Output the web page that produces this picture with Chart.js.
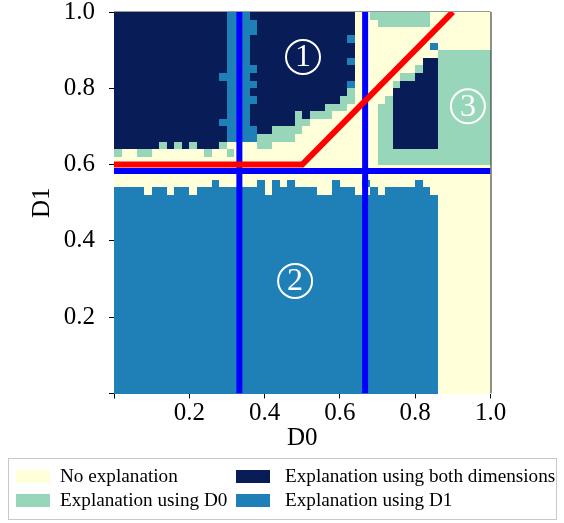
<!DOCTYPE html>
<html>
<head>
<meta charset="utf-8">
<script src="https://cdn.jsdelivr.net/npm/chart.js@4.4.1/dist/chart.umd.min.js"></script>
<style>
    body { margin: 0; background: #fff; }
    #wrap { position: relative; width: 564px; height: 523px; }
    #legend {
        position: absolute; left: 8px; top: 458px; width: 549px; height: 62px;
        border: 1px solid #c8c8c8; box-sizing: border-box;
        font-family: 'Liberation Serif', serif; font-size: 19.2px; color: #000;
    }
    .item { position: absolute; height: 22px; white-space: nowrap; }
    .sw { position: absolute; top: 5px; left: 0; width: 34px; height: 13px; }
    .txt { position: absolute; top: 0; line-height: 22px; }
</style>
</head>
<body>
<div id="wrap">
    <canvas id="chart" width="564" height="523"></canvas>
    <div id="legend"></div>
</div>
<script>
// classes of the explanation map
const classCodes = ['.', 'g', 'n', 'b'];
const classNames = ['No explanation', 'Explanation using D0', 'Explanation using both dimensions', 'Explanation using D1'];
const classColors = ['#ffffd9', '#97d6b9', '#081d58', '#1f80b8'];

// 50 x 50 cells, top row = D1 near 1.0, left column = D0 near 0.0
const gridRows = [
    'nnnnnnnnnnnnnnnbbbnnnnnnnnnnnnnn..gggggggg........',
    'nnnnnnnnnnnnnnnbbbbnnnnnnnnnnnnn...ggggggg........',
    'nnnnnnnnnnnnnnnbbbbnnnnnnnnnnnnn..................',
    'nnnnnnnnnnnnnnnbbbnnnnnnnnnnnnnb..................',
    'nnnnnnnnnnnnnnnbbbnnnnnnnnnnnnnn..........b.......',
    'nnnnnnnnnnnnnnnbbbnnnnnnnnnnnnnn...........ggggggg',
    'nnnnnnnnnnnnnnnbbbnnnnnnnnnnnnnb.........nnggggggg',
    'nnnnnnnnnnnnnnnbbbbnnnnnnnnnnnnn........gnnggggggg',
    'nnnnnnnnnnnnnnbbbbnnnnnnnnnnnnnn......ggnnnggggggg',
    'nnnnnnnnnnnnnnnbbbbnnnnnnnnnnnnb.....gnnnnnggggggg',
    'nnnnnnnnnnnnnnnbbbnnnnnnnnnnnnng.....nnnnnnggggggg',
    'nnnnnnnnnnnnnnnbbbbnnnnnnnnnnngg....gnnnnnnggggggg',
    'nnnnnnnnnnnnnnnbbbnnnnnnnnnnggg....ggnnnnnnggggggg',
    'nnnnnnnnnnnnnnnbbbnnnnnngnggg......ggnnnnnnggggggg',
    'nnnnnnnnnnnnnnbbbbnnnnnngg.........ggnnnnnnggggggg',
    'nnnnnnnnnnnnnnnbbbbnngggg..........ggnnnnnnggggggg',
    'nnnnnnnnnnnnnnnbbbbggggg...........ggnnnnnnggggggg',
    'nnnnnngngngnnng....gg..............ggnnnnnnggggggg',
    'g..gg.......g..g...................ggggggggggggggg',
    '...................................ggggggggggggggg',
    '..................................................',
    '..................................................',
    '.............b.....b.b.b.....b...b......b.........',
    'bbbb.bb.bb.bbbbbbbbb.bbbbbb..bbb..b.bbbbbb........',
    'bbbbbbbbbbbbbbbbbbbbbbbbbbbbbbbbbbbbbbbbbbb.......',
    'bbbbbbbbbbbbbbbbbbbbbbbbbbbbbbbbbbbbbbbbbbb.......',
    'bbbbbbbbbbbbbbbbbbbbbbbbbbbbbbbbbbbbbbbbbbb.......',
    'bbbbbbbbbbbbbbbbbbbbbbbbbbbbbbbbbbbbbbbbbbb.......',
    'bbbbbbbbbbbbbbbbbbbbbbbbbbbbbbbbbbbbbbbbbbb.......',
    'bbbbbbbbbbbbbbbbbbbbbbbbbbbbbbbbbbbbbbbbbbb.......',
    'bbbbbbbbbbbbbbbbbbbbbbbbbbbbbbbbbbbbbbbbbbb.......',
    'bbbbbbbbbbbbbbbbbbbbbbbbbbbbbbbbbbbbbbbbbbb.......',
    'bbbbbbbbbbbbbbbbbbbbbbbbbbbbbbbbbbbbbbbbbbb.......',
    'bbbbbbbbbbbbbbbbbbbbbbbbbbbbbbbbbbbbbbbbbbb.......',
    'bbbbbbbbbbbbbbbbbbbbbbbbbbbbbbbbbbbbbbbbbbb.......',
    'bbbbbbbbbbbbbbbbbbbbbbbbbbbbbbbbbbbbbbbbbbb.......',
    'bbbbbbbbbbbbbbbbbbbbbbbbbbbbbbbbbbbbbbbbbbb.......',
    'bbbbbbbbbbbbbbbbbbbbbbbbbbbbbbbbbbbbbbbbbbb.......',
    'bbbbbbbbbbbbbbbbbbbbbbbbbbbbbbbbbbbbbbbbbbb.......',
    'bbbbbbbbbbbbbbbbbbbbbbbbbbbbbbbbbbbbbbbbbbb.......',
    'bbbbbbbbbbbbbbbbbbbbbbbbbbbbbbbbbbbbbbbbbbb.......',
    'bbbbbbbbbbbbbbbbbbbbbbbbbbbbbbbbbbbbbbbbbbb.......',
    'bbbbbbbbbbbbbbbbbbbbbbbbbbbbbbbbbbbbbbbbbbb.......',
    'bbbbbbbbbbbbbbbbbbbbbbbbbbbbbbbbbbbbbbbbbbb.......',
    'bbbbbbbbbbbbbbbbbbbbbbbbbbbbbbbbbbbbbbbbbbb.......',
    'bbbbbbbbbbbbbbbbbbbbbbbbbbbbbbbbbbbbbbbbbbb.......',
    'bbbbbbbbbbbbbbbbbbbbbbbbbbbbbbbbbbbbbbbbbbb.......',
    'bbbbbbbbbbbbbbbbbbbbbbbbbbbbbbbbbbbbbbbbbbb.......',
    'bbbbbbbbbbbbbbbbbbbbbbbbbbbbbbbbbbbbbbbbbbb.......',
    'bbbbbbbbbbbbbbbbbbbbbbbbbbbbbbbbbbbbbbbbbbb.......'
];

// learned boundary (red) and the true splits (blue)
const redLineD0 = [0, 0.5, 0.9];
const redLineD1 = [0.6, 0.6, 1.0];
const splitsD0 = [0.333, 0.667];
const splitD1 = 0.583;

// circled region labels
const regionLabels = ['1', '2', '3'];
const regionD0 = [0.502, 0.481, 0.94];
const regionD1 = [0.882, 0.295, 0.753];

const tickValues = [0, 0.2, 0.4, 0.6, 0.8, 1.0];

const serif = "'Liberation Serif', 'Times New Roman', serif";

const cellsPlugin = {
    id: 'cells',
    beforeDatasetsDraw(chart) {
        const { ctx, scales: { x, y } } = chart;
        const nRows = gridRows.length;
        ctx.save();
        gridRows.forEach((row, j) => {
            const nCols = row.length;
            const yTop = Math.round(y.getPixelForValue(1 - j / nRows));
            const yBot = Math.round(y.getPixelForValue(1 - (j + 1) / nRows));
            for (let i = 0; i < nCols; i++) {
                const x0 = Math.round(x.getPixelForValue(i / nCols));
                const x1 = Math.round(x.getPixelForValue((i + 1) / nCols));
                ctx.fillStyle = classColors[classCodes.indexOf(row[i])];
                ctx.fillRect(x0, yTop, x1 - x0, yBot - yTop);
            }
        });
        ctx.restore();
    },
    afterDatasetsDraw(chart) {
        // circled region numbers
        const { ctx, scales: { x, y } } = chart;
        ctx.save();
        ctx.fillStyle = '#fff';
        ctx.strokeStyle = '#fff';
        ctx.lineWidth = 2;
        ctx.font = "32px 'Liberation Serif', serif";
        ctx.textAlign = 'center';
        ctx.textBaseline = 'middle';
        regionLabels.forEach((t, k) => {
            const px = x.getPixelForValue(regionD0[k]);
            const py = y.getPixelForValue(regionD1[k]);
            ctx.beginPath();
            ctx.arc(px, py, 17, 0, Math.PI * 2);
            ctx.stroke();
            ctx.fillText(t, px, py + 1);
        });
        ctx.restore();
    },
    afterDraw(chart) {
        // top and right spines
        const { ctx, chartArea: a } = chart;
        ctx.save();
        ctx.lineWidth = 1;
        ctx.strokeStyle = '#999';
        ctx.beginPath();
        ctx.moveTo(a.left, a.top - 0.5);
        ctx.lineTo(a.right, a.top - 0.5);
        ctx.stroke();
        ctx.strokeStyle = '#222';
        ctx.beginPath();
        ctx.moveTo(a.right + 0.5, a.top);
        ctx.lineTo(a.right + 0.5, a.bottom);
        ctx.stroke();
        ctx.restore();
    }
};

const lineStyle = { showLine: true, pointRadius: 0, borderWidth: 6, fill: false, clip: 0 };

const datasets = [
    Object.assign({
        label: 'boundary',
        data: redLineD0.map((v, i) => ({ x: v, y: redLineD1[i] })),
        borderColor: '#ff0000'
    }, lineStyle),
    Object.assign({
        label: 'split D1',
        data: [{ x: 0, y: splitD1 }, { x: 1, y: splitD1 }],
        borderColor: '#0000ff'
    }, lineStyle)
];
splitsD0.forEach(s => {
    datasets.push(Object.assign({
        label: 'split D0',
        data: [{ x: s, y: 0 }, { x: s, y: 1 }],
        borderColor: '#0000ff'
    }, lineStyle));
});

function axis(title, isX) {
    return {
        type: 'linear',
        min: 0,
        max: 1,
        afterBuildTicks: (scale) => { scale.ticks = tickValues.map(v => ({ value: v })); },
        afterFit: (scale) => {
            if (isX) scale.height = 60; else scale.width = 114;
            scale.paddingTop = 0; scale.paddingBottom = 0;
            scale.paddingLeft = 0; scale.paddingRight = 0;
        },
        grid: { drawOnChartArea: false, drawTicks: true, tickLength: 5, tickColor: '#000' },
        border: { display: true, color: '#000', width: 1 },
        ticks: {
            color: '#000',
            padding: isX ? 2 : 14,
            font: { family: serif, size: 25, lineHeight: 1 },
            callback: v => v === 0 ? '' : v.toFixed(1)
        },
        title: {
            display: true,
            text: title,
            color: '#000',
            font: { family: serif, size: 25, lineHeight: 1.2 },
            padding: isX ? 0 : { top: 27, bottom: 0 }
        }
    };
}

new Chart(document.getElementById('chart'), {
    type: 'scatter',
    data: { datasets: datasets },
    options: {
        responsive: false,
        animation: false,
        devicePixelRatio: 1,
        layout: { padding: { left: 0, top: 12, right: 73.5, bottom: 69.5 } },
        plugins: { legend: { display: false }, tooltip: { enabled: false } },
        scales: { x: axis('D0', true), y: axis('D1', false) }
    },
    plugins: [cellsPlugin]
});

// legend, two columns: [swatch left, text left, top]
const legend = document.getElementById('legend');
const legendPos = [[7, 51, 6], [7, 51, 30], [227, 276, 6], [227, 276, 30]];
[0, 1, 2, 3].forEach(k => {
    const item = document.createElement('div');
    item.className = 'item';
    item.style.left = '0px';
    item.style.top = legendPos[k][2] + 'px';
    item.innerHTML = `<div class="sw" style="left:${legendPos[k][0]}px;background:${classColors[k]}"></div>` +
        `<span class="txt" style="left:${legendPos[k][1]}px">${classNames[k]}</span>`;
    legend.appendChild(item);
});
</script>
</body>
</html>
